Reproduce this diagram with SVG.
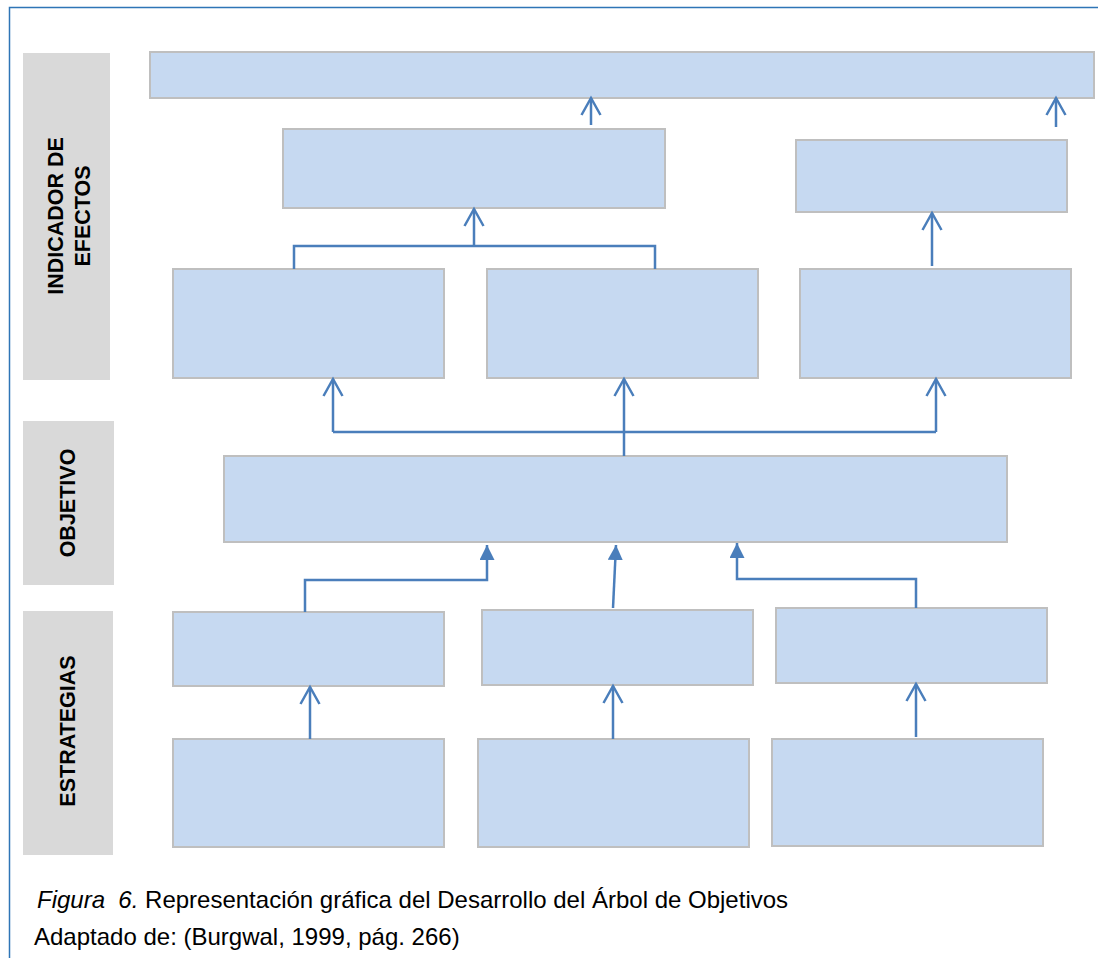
<svg xmlns="http://www.w3.org/2000/svg" width="1098" height="958" viewBox="0 0 1098 958">
  <style>
    .box { fill: #C6D9F1; stroke: #BFBFBF; stroke-width: 2; }
    .band { fill: #D9D9D9; }
    .lbl { font-family: "Liberation Sans", Arial, sans-serif; font-weight: bold; font-size: 21.5px; fill: #000; }
    .cap { font-family: "Liberation Sans", Arial, sans-serif; font-size: 24px; fill: #000; }
    .ln { fill: none; stroke: #4A7EBB; stroke-width: 2.5; }
  </style>
  <defs>
    <marker id="open" viewBox="0 0 22 22" refX="18" refY="11" markerWidth="22" markerHeight="22" markerUnits="userSpaceOnUse" orient="auto">
      <path d="M1,1.5 L18,11 L1,20.5" fill="none" stroke="#4A7EBB" stroke-width="2.5"/>
    </marker>
    <marker id="solid" viewBox="0 0 20 20" refX="15" refY="7.5" markerWidth="20" markerHeight="20" markerUnits="userSpaceOnUse" orient="auto">
      <path d="M0,0 L15,7.5 L0,15 Z" fill="#4A7EBB"/>
    </marker>
  </defs>

  <rect width="1098" height="958" fill="#fff"/>
  <!-- page frame -->
  <path d="M9.5,958 V7.5 H1098" fill="none" stroke="#2E75B6" stroke-width="1.5"/>

  <!-- row labels -->
  <g id="label-indicador">
    <rect class="band" x="23" y="53" width="87" height="327"/>
    <text class="lbl" transform="translate(63,216) rotate(-90)" text-anchor="middle">INDICADOR DE</text>
    <text class="lbl" transform="translate(90,216) rotate(-90)" text-anchor="middle">EFECTOS</text>
  </g>
  <g id="label-objetivo">
    <rect class="band" x="23" y="421" width="91" height="164"/>
    <text class="lbl" transform="translate(75,503) rotate(-90)" text-anchor="middle">OBJETIVO</text>
  </g>
  <g id="label-estrategias">
    <rect class="band" x="23" y="611" width="90" height="244"/>
    <text class="lbl" transform="translate(75,731) rotate(-90)" text-anchor="middle">ESTRATEGIAS</text>
  </g>

  <!-- boxes -->
  <g id="n-top"><rect class="box" x="150" y="52" width="944" height="46"/></g>
  <g id="n-e1"><rect class="box" x="283" y="129" width="382" height="79"/></g>
  <g id="n-e2"><rect class="box" x="796" y="140" width="271" height="72"/></g>
  <g id="n-i1"><rect class="box" x="173" y="269" width="271" height="109"/></g>
  <g id="n-i2"><rect class="box" x="487" y="269" width="271" height="109"/></g>
  <g id="n-i3"><rect class="box" x="800" y="269" width="271" height="109"/></g>
  <g id="n-obj"><rect class="box" x="224" y="456" width="783" height="86"/></g>
  <g id="n-s1"><rect class="box" x="173" y="612" width="271" height="74"/></g>
  <g id="n-s2"><rect class="box" x="482" y="610" width="271" height="75"/></g>
  <g id="n-s3"><rect class="box" x="776" y="608" width="271" height="75"/></g>
  <g id="n-a1"><rect class="box" x="173" y="739" width="271" height="108"/></g>
  <g id="n-a2"><rect class="box" x="478" y="739" width="271" height="108"/></g>
  <g id="n-a3"><rect class="box" x="772" y="739" width="271" height="107"/></g>

  <!-- connectors -->
  <g id="connectors">
    <path class="ln" d="M591,125 V98" marker-end="url(#open)"/>
    <path class="ln" d="M1056,127 V98" marker-end="url(#open)"/>
    <path class="ln" d="M294,269 V246 H655 V269"/>
    <path class="ln" d="M474,246 V209" marker-end="url(#open)"/>
    <path class="ln" d="M932,266 V213" marker-end="url(#open)"/>
    <path class="ln" d="M624,456 V379" marker-end="url(#open)"/>
    <path class="ln" d="M936,432 H333"/>
    <path class="ln" d="M333,432 V379" marker-end="url(#open)"/>
    <path class="ln" d="M936,432 V379" marker-end="url(#open)"/>
    <path class="ln" d="M305,612 V580 H487 V545" marker-end="url(#solid)"/>
    <path class="ln" d="M613,608 L616,545" marker-end="url(#solid)"/>
    <path class="ln" d="M916,608 V579 H737 V543" marker-end="url(#solid)"/>
    <path class="ln" d="M310,739 V687" marker-end="url(#open)"/>
    <path class="ln" d="M613,739 V686" marker-end="url(#open)"/>
    <path class="ln" d="M916,737 V684" marker-end="url(#open)"/>
  </g>

  <!-- caption -->
  <text class="cap" x="37" y="908"><tspan font-style="italic">Figura&#160; 6.</tspan> Representación gráfica del Desarrollo del Árbol de Objetivos</text>
  <text class="cap" x="34" y="945">Adaptado de: (Burgwal, 1999, pág. 266)</text>
</svg>
